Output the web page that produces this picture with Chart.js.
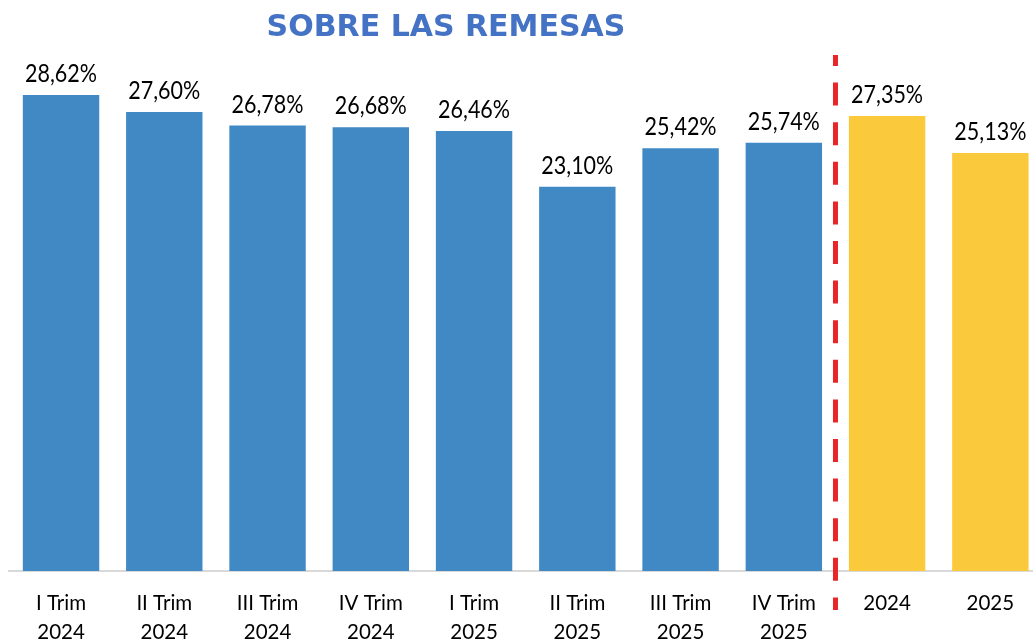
<!DOCTYPE html>
<html><head><meta charset="utf-8">
<script src="https://cdn.jsdelivr.net/npm/chart.js@4"></script>
<style>
html,body{margin:0;padding:0;background:#fff;overflow:hidden;}
#wrap{width:1042px;height:640px;position:relative;}
</style></head>
<body><div id="wrap"><canvas id="c"></canvas></div>
<script>
const categories = [["I Trim","2024"],["II Trim","2024"],["III Trim","2024"],["IV Trim","2024"],["I Trim","2025"],["II Trim","2025"],["III Trim","2025"],["IV Trim","2025"],"2024","2025"];
const values = [28.62, 27.60, 26.78, 26.68, 26.46, 23.10, 25.42, 25.74, 27.35, 25.13];
const barColors = ["#4189C5","#4189C5","#4189C5","#4189C5","#4189C5","#4189C5","#4189C5","#4189C5","#FAC93C","#FAC93C"];
const titleText = "SOBRE LAS REMESAS";
const FONT = "Lato, 'Liberation Sans', sans-serif";

const extras = {
  id: 'extras',
  afterDatasetsDraw(chart) {
    const ctx = chart.ctx;
    const meta = chart.getDatasetMeta(0);
    ctx.save();
    ctx.fillStyle = '#000';
    ctx.font = "21.5px " + FONT;
    ctx.textAlign = 'center';
    ctx.textBaseline = 'alphabetic';
    meta.data.forEach((bar, i) => {
      const v = values[i].toFixed(2).replace('.', ',') + '%';
      ctx.save();
      ctx.translate(bar.x, bar.y - 13);
      ctx.scale(1, 1.14);
      ctx.fillText(v, 0, 0);
      ctx.restore();
    });
    // dashed separator
    const xs = chart.scales.x;
    const xSep = (xs.getPixelForValue(7) + xs.getPixelForValue(8)) / 2;
    ctx.strokeStyle = '#E8262A';
    ctx.lineWidth = 5;
    ctx.setLineDash([23, 16.6]);
    ctx.lineDashOffset = 12;
    ctx.beginPath();
    ctx.moveTo(xSep, 55);
    ctx.lineTo(xSep, 610);
    ctx.stroke();
    ctx.setLineDash([]);
    // title
    ctx.fillStyle = '#4472C4';
    ctx.font = "bold 30px 'DejaVu Sans', sans-serif";
    ctx.textBaseline = 'middle';
    ctx.fillText(titleText, 446, 28.5);
    ctx.restore();
  }
};

new Chart(document.getElementById('c'), {
  type: 'bar',
  data: {
    labels: categories,
    datasets: [{ data: values, backgroundColor: barColors, barPercentage: 0.74, categoryPercentage: 1.0 }]
  },
  options: {
    responsive: true,
    maintainAspectRatio: false,
    animation: false,
    layout: { padding: { left: 9.4, right: 0, top: 72, bottom: 0 } },
    plugins: { legend: { display: false }, tooltip: { enabled: false }, title: { display: false } },
    scales: {
      x: {
        grid: { display: false, drawTicks: false },
        border: { display: true, color: '#D9D9D9', width: 2 },
        ticks: { color: '#000', font: { family: FONT, size: 20.5, lineHeight: 1.42 }, padding: 18, maxRotation: 0, autoSkip: false },
        afterFit(scale) { scale.height = 69; }
      },
      y: { display: false, min: 0, max: 30 }
    }
  },
  plugins: [extras]
});
</script></body></html>
